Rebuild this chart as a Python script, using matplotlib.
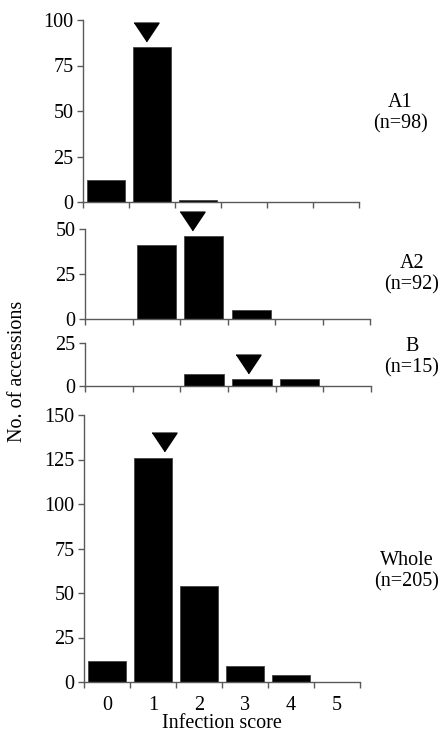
import numpy as np
import matplotlib
matplotlib.use("Agg")
import matplotlib.pyplot as plt
from matplotlib.transforms import offset_copy

plt.rcParams['font.family'] = ['Liberation Serif', 'DejaVu Serif']

scores = [0, 1, 2, 3, 4, 5]
a1_counts = [12, 85, 1, 0, 0, 0]
a2_counts = [0, 41, 46, 5, 0, 0]
b_counts = [0, 0, 7, 4, 4, 0]
whole_counts = [12, 126, 54, 9, 4, 0]

group_names = ['A1', 'A2', 'B', 'Whole']
group_n = [98, 92, 15, 205]
# position of the arrow head (score units)
arrow_pos = [0.87, 1.76, 2.91, 1.24]
y_max = [100, 50, 25, 150]

W, H = 441, 734
fig = plt.figure(figsize=(W / 100, H / 100), dpi=100)

# panel boxes in pixels: left, right, top, bottom
boxes = [(83, 359, 20, 202),
         (85, 370, 229, 319),
         (85, 371, 343, 386),
         (84, 360, 415, 682)]
label_xy = [(400, 113), (412, 274), (412, 357), (407, 571)]

all_counts = [a1_counts, a2_counts, b_counts, whole_counts]
axc = '#5a5a5a'

for i, counts in enumerate(all_counts):
    l, r, t, b = boxes[i]
    ax = fig.add_axes([l / W, 1 - b / H, (r - l) / W, (b - t) / H])
    ax.bar(scores, counts, width=0.83, color='black', edgecolor='#444444', linewidth=0.6)
    ax.set_xlim(-0.5, 5.5)
    ax.set_ylim(0, y_max[i])
    ax.set_yticks(np.arange(0, y_max[i] + 1, 25))
    ax.set_xticks(np.arange(-0.5, 6, 1))
    ax.set_xticklabels([])
    for s in ['top', 'right']:
        ax.spines[s].set_visible(False)
    for s in ['left', 'bottom']:
        ax.spines[s].set_color(axc)
        ax.spines[s].set_linewidth(1.0)
    ax.tick_params(axis='both', direction='out', length=4, width=1.0, color=axc,
                   labelsize=14.5, pad=3)
    if i == 3:
        ax.set_xticks(scores, minor=True)
        ax.set_xticklabels([str(s) for s in scores], minor=True)
        ax.tick_params(axis='x', which='minor', length=0, labelsize=14.5, pad=10)
        ax.set_xlabel('Infection score', fontsize=14.5, labelpad=-1)

    # arrow head above the bar nearest the mark
    near = int(round(arrow_pos[i]))
    tr = offset_copy(ax.transData, fig=fig, x=0, y=15.5 * 0.72, units='points')
    ax.plot([arrow_pos[i]], [counts[near]], marker=[(-1, 0.75), (1, 0.75), (0, -0.75)],
            markersize=18, color='black', transform=tr, clip_on=False)

    lx, ly = label_xy[i]
    fig.text(lx / W, 1 - ly / H, '%s\n(n=%d)' % (group_names[i], group_n[i]),
             ha='center', va='center', fontsize=14.5, linespacing=1.15)

fig.text(18 / W, 1 - 371 / H, 'No. of accessions', rotation=90, ha='center', va='center',
         fontsize=14.5)

fig.savefig('out.png', dpi=100)
